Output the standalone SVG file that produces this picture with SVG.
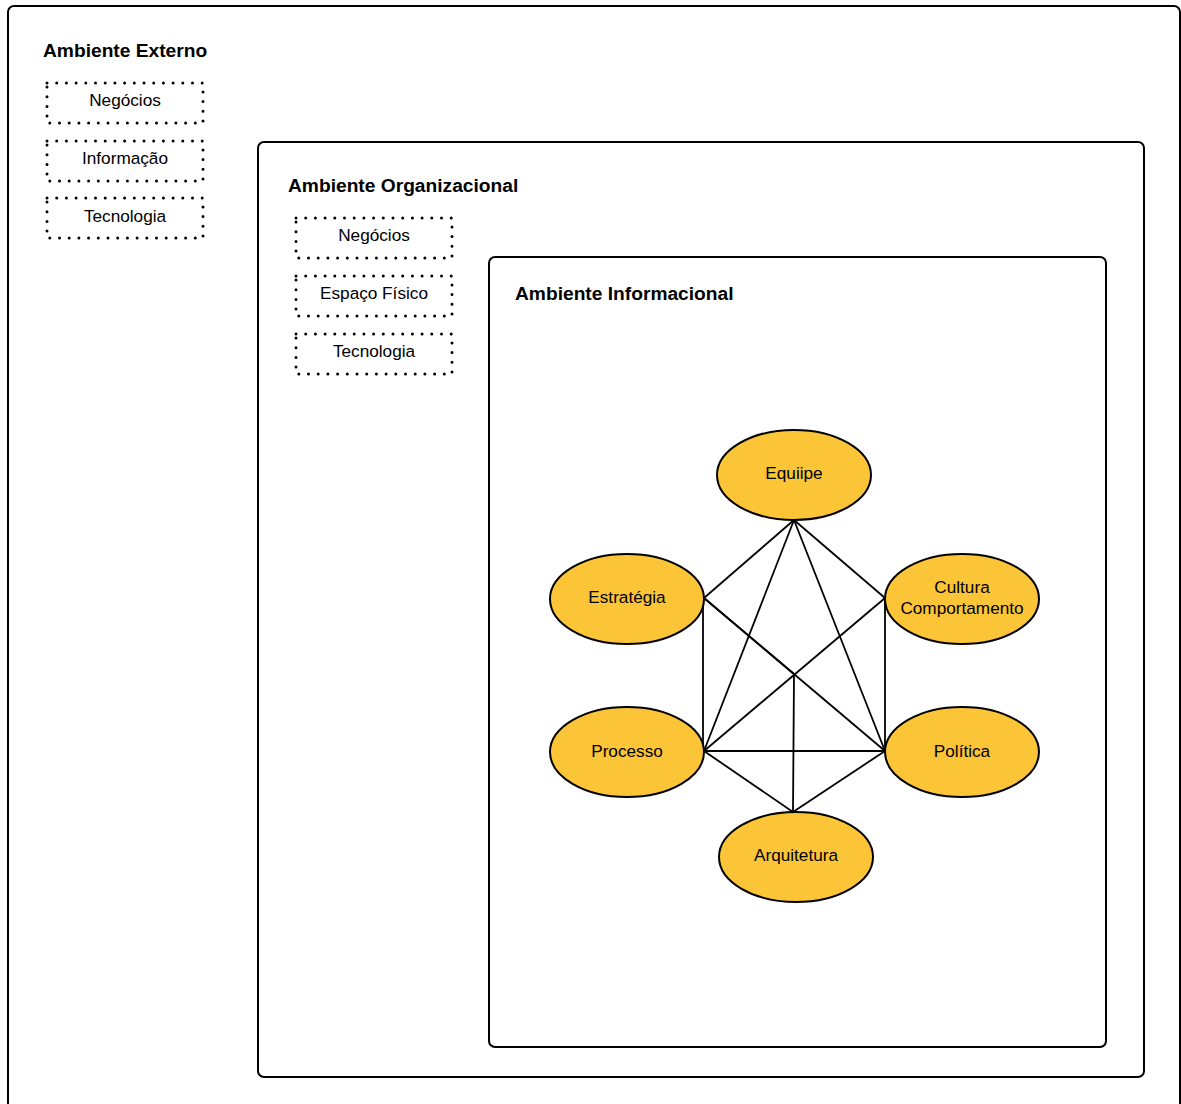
<svg xmlns="http://www.w3.org/2000/svg" width="1181" height="1104" viewBox="0 0 1181 1104">
<style>
.frame{fill:#fff;stroke:#000;stroke-width:2}
.dot{fill:none;stroke:#000;stroke-width:3;stroke-linecap:round;stroke-dasharray:0 9.7}
.hdr{font-family:"Liberation Sans",Arial,sans-serif;font-weight:bold;font-size:19.2px;fill:#000}
.lbl{font-family:"Liberation Sans",Arial,sans-serif;font-size:17.2px;fill:#000;text-anchor:middle}
.node{fill:#fbc537;stroke:#000;stroke-width:2}
.conn{fill:none;stroke:#000;stroke-width:1.8}
</style>
<rect width="1181" height="1104" fill="#fff"/>
<g id="ambiente-externo">
<rect class="frame" x="8" y="6" width="1172" height="1120" rx="6"/>
<text class="hdr" x="43" y="57">Ambiente Externo</text>
</g>
<g id="ext-negocios"><rect class="dot" x="47" y="83" width="156" height="40"/><text class="lbl" x="125" y="106">Negócios</text></g>
<g id="ext-informacao"><rect class="dot" x="47" y="141" width="156" height="40"/><text class="lbl" x="125" y="164">Informação</text></g>
<g id="ext-tecnologia"><rect class="dot" x="47" y="198" width="156" height="40"/><text class="lbl" x="125" y="222">Tecnologia</text></g>
<g id="ambiente-organizacional">
<rect class="frame" x="258" y="142" width="886" height="935" rx="6"/>
<text class="hdr" x="288" y="192">Ambiente Organizacional</text>
</g>
<g id="org-negocios"><rect class="dot" x="296" y="218" width="156" height="40"/><text class="lbl" x="374" y="241">Negócios</text></g>
<g id="org-espaco"><rect class="dot" x="296" y="276" width="156" height="40"/><text class="lbl" x="374" y="299">Espaço Físico</text></g>
<g id="org-tecnologia"><rect class="dot" x="296" y="334" width="156" height="40"/><text class="lbl" x="374" y="357">Tecnologia</text></g>
<g id="ambiente-informacional">
<rect class="frame" x="489" y="257" width="617" height="790" rx="6"/>
<text class="hdr" x="515" y="300">Ambiente Informacional</text>
</g>
<g id="connectors">
<line class="conn" x1="794" y1="520" x2="704" y2="598"/>
<line class="conn" x1="794" y1="520" x2="885" y2="598"/>
<line class="conn" x1="794" y1="520" x2="704" y2="751"/>
<line class="conn" x1="794" y1="520" x2="885" y2="751"/>
<line class="conn" x1="704" y1="598" x2="885" y2="751"/>
<polyline class="conn" points="704,598 794,674 793,812"/>
<line class="conn" x1="703" y1="598" x2="703" y2="751"/>
<line class="conn" x1="885" y1="598" x2="704" y2="751"/>
<line class="conn" x1="885" y1="598" x2="885" y2="751"/>
<line class="conn" x1="704" y1="751" x2="885" y2="751"/>
<line class="conn" x1="704" y1="751" x2="793" y2="812"/>
<line class="conn" x1="885" y1="751" x2="793" y2="812"/>
</g>
<g id="equiipe"><ellipse class="node" cx="794" cy="475" rx="77" ry="45"/><text class="lbl" x="794" y="479">Equiipe</text></g>
<g id="estrategia"><ellipse class="node" cx="627" cy="599" rx="77" ry="45"/><text class="lbl" x="627" y="603">Estratégia</text></g>
<g id="cultura"><ellipse class="node" cx="962" cy="599" rx="77" ry="45"/><text class="lbl" x="962" y="593">Cultura</text><text class="lbl" x="962" y="614">Comportamento</text></g>
<g id="processo"><ellipse class="node" cx="627" cy="752" rx="77" ry="45"/><text class="lbl" x="627" y="757">Processo</text></g>
<g id="politica"><ellipse class="node" cx="962" cy="752" rx="77" ry="45"/><text class="lbl" x="962" y="757">Política</text></g>
<g id="arquitetura"><ellipse class="node" cx="796" cy="857" rx="77" ry="45"/><text class="lbl" x="796" y="861">Arquitetura</text></g>
</svg>
